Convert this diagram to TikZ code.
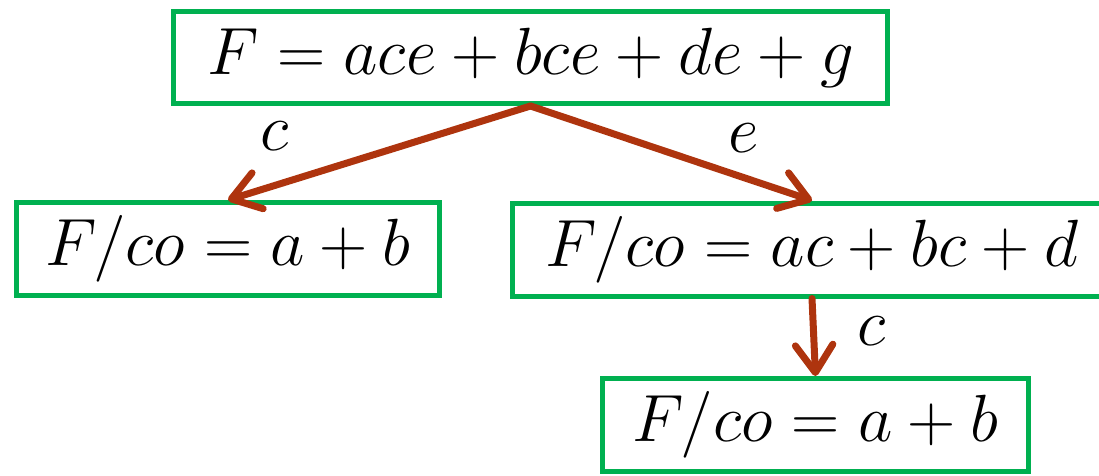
\RequirePackage{fix-cm}
\documentclass[tikz,border=0pt]{standalone}
\usepackage{amsmath}
\usepackage{xcolor}
\usepackage{tikz}
\usetikzlibrary{arrows.meta,positioning}
\definecolor{boxgreen}{RGB}{0,176,80}
\definecolor{arrowred}{RGB}{174,52,14}
\tikzset{
  expr/.style   ={rectangle,draw=boxgreen,line width=0.1cm,fill=white,inner sep=0pt,
                  minimum height=1.86cm,font=\fontsize{38}{43}\selectfont},
  cofedge/.style={draw=arrowred,line width=0.14cm,line cap=round,line join=round,
                  -{Straight Barb[length=0.55cm,width=0.75cm,round]}},
  lit/.style    ={font=\fontsize{38}{43}\selectfont,inner sep=0pt},
}
\begin{document}
\begin{tikzpicture}
  \useasboundingbox (0,0) rectangle (21.98,-9.5);
  \node[expr,minimum width=14.28cm,minimum height=1.84cm] (root) at (10.61,-1.15) {$F = ace + bce + de + g$};
  \node[expr,minimum width=8.46cm]  (cofc)  at (4.56,-4.98)  {$F/co = a + b$};
  \node[expr,minimum width=11.98cm] (cofe)  at (16.24,-4.99) {$F/co = ac + bc + d$};
  \node[expr,minimum width=8.52cm]  (cofec) at (16.31,-8.50) {$F/co = a + b$};
  \draw[cofedge] (root.south) -- (cofc.north);
  \draw[cofedge] (root.south) -- (cofe.north);
  \draw[cofedge] (cofe.south) -- (cofec.north);
  \node[lit] (lc)  at (5.50,-2.72)  {$c$};
  \node[lit] (le)  at (14.88,-2.76) {$e$};
  \node[lit] (lc2) at (17.44,-6.62) {$c$};
\end{tikzpicture}
\end{document}
